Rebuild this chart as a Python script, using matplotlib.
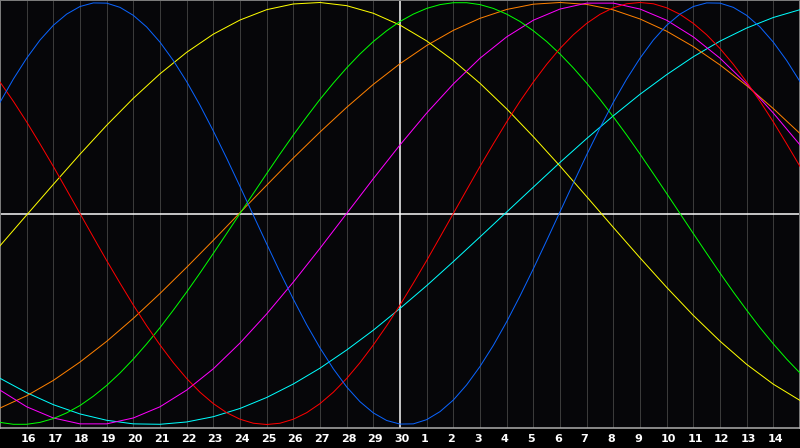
import numpy as np
import matplotlib
matplotlib.use("Agg")
import matplotlib.pyplot as plt
import matplotlib.transforms as mtransforms

# day index 0..30 (day 15 of one month to day 15 of the next)
days = list(range(31))
day_labels = [str(d) for d in range(16, 31)] + [str(d) for d in range(1, 15)]
label_pos = list(range(1, 30))
today = 15

# cycle values, one per day
physical = [0.527, 0.736, 0.892, 0.981, 0.997, 0.939, 0.812, 0.625, 0.391, 0.128, -0.144,
            -0.406, -0.637, -0.822, -0.945, -0.998, -0.977, -0.884, -0.725, -0.513, -0.262,
            0.008, 0.278, 0.527, 0.736, 0.892, 0.981, 0.997, 0.939, 0.812, 0.625]
emotional = [0.623, 0.434, 0.223, 0.000, -0.223, -0.434, -0.623, -0.782, -0.901, -0.975, -1.000,
             -0.975, -0.901, -0.782, -0.623, -0.434, -0.223, 0.000, 0.223, 0.434, 0.623,
             0.782, 0.901, 0.975, 1.000, 0.975, 0.901, 0.782, 0.623, 0.434, 0.223]
intellectual = [-0.990, -0.999, -0.972, -0.910, -0.815, -0.690, -0.541, -0.372, -0.189, 0.000, 0.189,
                0.372, 0.541, 0.690, 0.815, 0.910, 0.972, 0.999, 0.990, 0.945, 0.866,
                0.756, 0.618, 0.458, 0.282, 0.095, -0.095, -0.282, -0.458, -0.618, -0.756]
intuitive = [-0.837, -0.916, -0.969, -0.997, -0.997, -0.969, -0.916, -0.837, -0.736, -0.614, -0.476,
             -0.325, -0.165, 0.000, 0.165, 0.325, 0.476, 0.614, 0.736, 0.837, 0.916,
             0.969, 0.997, 0.997, 0.969, 0.916, 0.837, 0.736, 0.614, 0.476, 0.325]
aesthetic = [-0.153, -0.007, 0.138, 0.281, 0.418, 0.546, 0.662, 0.764, 0.850, 0.917, 0.966,
             0.993, 1.000, 0.985, 0.949, 0.893, 0.818, 0.725, 0.617, 0.496, 0.364,
             0.225, 0.080, -0.066, -0.210, -0.350, -0.483, -0.605, -0.715, -0.809, -0.886]
awareness = [-0.922, -0.864, -0.791, -0.704, -0.606, -0.497, -0.379, -0.255, -0.127, 0.004, 0.134,
             0.263, 0.386, 0.503, 0.612, 0.710, 0.796, 0.868, 0.925, 0.967, 0.992,
             1.000, 0.991, 0.965, 0.922, 0.864, 0.791, 0.704, 0.606, 0.497, 0.379]
spiritual = [-0.781, -0.849, -0.906, -0.950, -0.980, -0.997, -0.999, -0.988, -0.963, -0.924, -0.872,
             -0.808, -0.733, -0.647, -0.553, -0.450, -0.342, -0.228, -0.111, 0.007, 0.125,
             0.242, 0.355, 0.463, 0.565, 0.658, 0.743, 0.817, 0.879, 0.929, 0.966]

# extra readings at mid-day for the faster cycles (0.5, 1.5, ... 29.5)
physical_mid = [0.637, 0.822, 0.945, 0.998, 0.977, 0.884, 0.725, 0.513, 0.262, -0.008,
                -0.278, -0.527, -0.736, -0.892, -0.981, -0.997, -0.939, -0.812, -0.625, -0.391,
                -0.128, 0.144, 0.406, 0.637, 0.822, 0.945, 0.998, 0.977, 0.884, 0.725]
emotional_mid = [0.532, 0.330, 0.112, -0.112, -0.330, -0.532, -0.707, -0.847, -0.944, -0.994,
                 -0.994, -0.944, -0.847, -0.707, -0.532, -0.330, -0.112, 0.112, 0.330, 0.532,
                 0.707, 0.847, 0.944, 0.994, 0.994, 0.944, 0.847, 0.707, 0.532, 0.330]
intellectual_mid = [-0.999, -0.990, -0.945, -0.866, -0.756, -0.618, -0.458, -0.282, -0.095, 0.095,
                    0.282, 0.458, 0.618, 0.756, 0.866, 0.945, 0.990, 0.999, 0.972, 0.910,
                    0.815, 0.690, 0.541, 0.372, 0.189, 0.000, -0.189, -0.372, -0.541, -0.690]


def merge(daily, mid):
    x = np.arange(0, 30.5, 0.5)
    y = np.empty(len(x))
    y[0::2] = daily
    y[1::2] = mid
    return x, y


series = [
    (days, spiritual, "#00ffff"),
    (days, awareness, "#ff8000"),
    (days, aesthetic, "#ffff00"),
    (days, intuitive, "#ff00ff"),
    (*merge(intellectual, intellectual_mid), "#00ff00"),
    (*merge(emotional, emotional_mid), "#ff0000"),
    (*merge(physical, physical_mid), "#0a64ff"),
]

px = 0.72  # one pixel in points at 100 dpi

fig = plt.figure(figsize=(8, 4.48), dpi=100, facecolor="black")
ax = fig.add_axes([0, 20 / 448, 1, 428 / 448])
ax.set_facecolor("#060609")

for d in label_pos:
    if d != today:
        ax.axvline(d, color="#3a3a3a", lw=px, zorder=1)
ax.axvline(today, color="white", lw=1.5 * px, zorder=2)
ax.axhline(0, color="white", lw=1.5 * px, zorder=2)

for x, values, color in series:
    ax.plot(x, values, color=color, lw=px, zorder=3)

ax.set_xlim(0, 30)
ax.set_ylim(-214.5 / 211, 213.5 / 211)
ax.set_yticks([])
ax.set_xticks(label_pos)
ax.set_xticklabels(day_labels, fontfamily="DejaVu Sans",
                   fontweight="bold", fontsize=8, color="white", ha="left")
ax.tick_params(axis="x", length=0, pad=4)
shift = mtransforms.ScaledTranslation(-6 / 100, 0, fig.dpi_scale_trans)
for lab in ax.get_xticklabels():
    lab.set_transform(lab.get_transform() + shift)

for side in ["top", "left", "right"]:
    ax.spines[side].set_color("#7a7a7a")
    ax.spines[side].set_linewidth(2 * px)
ax.spines["bottom"].set_color("#b0b0b0")
ax.spines["bottom"].set_linewidth(1.5 * px)

fig.savefig("out.png", dpi=100, facecolor="black")
plt.close(fig)
